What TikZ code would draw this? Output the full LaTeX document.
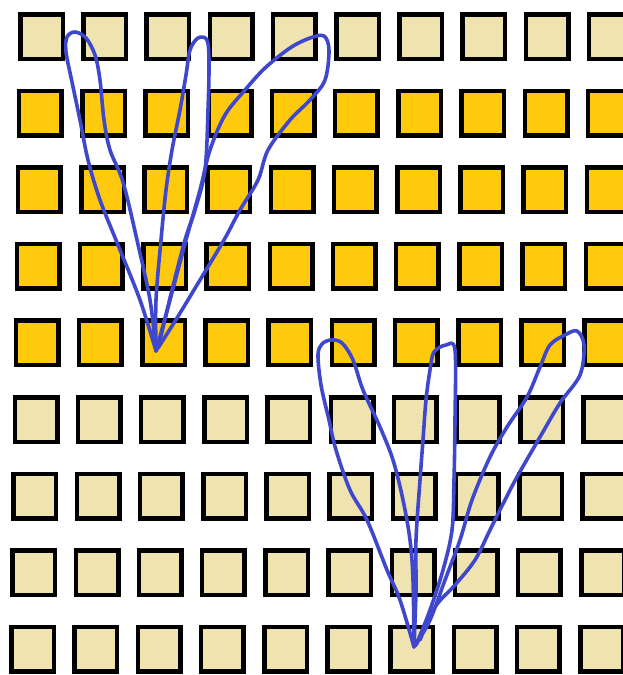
\documentclass[tikz,border=0pt]{standalone}
\definecolor{pale}{HTML}{EFE4B0}
\definecolor{gold}{HTML}{FFC90E}
\definecolor{pen}{HTML}{3F48CC}
\tikzset{
  cell/.style={draw=black, line width=4.5pt},
  stroke/.style={draw=pen, line width=3.6pt, line join=round, line cap=round}
}
\begin{document}
\begin{tikzpicture}[x=1pt, y=-1pt]
\useasboundingbox (0,0) rectangle (623,675);
\clip (0,0) rectangle (623,675);
\fill[white] (0,0) rectangle (623,675);
\foreach \r in {1,...,9}{
  \foreach \c in {1,...,10}{
    \pgfmathsetmacro{\xl}{18-(\r-1)*1.1+(\c-1)*63.2}
    \pgfmathsetmacro{\yt}{12+(\r-1)*76.6}
    \ifnum\r>1 \ifnum\r<6
      \def\fc{gold}
    \else \def\fc{pale}\fi
    \else \def\fc{pale}\fi
    \path[cell, fill=\fc] (\xl+2.25,\yt+2.25) rectangle (\xl+44.75,\yt+46.75);
  }
}
% top-left group
\coordinate (t1) at (156,351);
\draw[stroke] plot[smooth, tension=0.55] coordinates {
  (156,351) (140,300) (118,245) (100,200) (88,160) (80,120) (72,82) (66,52)
  (67,37) (75,32) (86,38) (95,55) (100,80) (104,120) (110,150) (123,182)
  (137,240) (150,300) (156,351)};
\draw[stroke] plot[smooth, tension=0.55] coordinates {
  (156,351) (156,300) (161,240) (166,190) (172,150) (180,110) (186,75)
  (190,50) (198,38) (207,40) (209,62) (208,110) (205,170) (195,210)
  (185,240) (172,290) (160,340) (156,351)};
\draw[stroke] plot[smooth, tension=0.55] coordinates {
  (156,351) (170,300) (186,240) (200,190) (210,150) (225,115) (245,90)
  (265,68) (290,48) (310,38) (324,36) (329,50) (325,80) (310,100)
  (290,120) (268,150) (258,180) (240,210) (224,240) (200,280) (177,318)
  (158,348)};
% bottom-right group
\draw[stroke] plot[smooth, tension=0.55] coordinates {
  (414,647) (400,600) (387,570) (367,520) (350,490) (336,450) (329,420)
  (321,385) (318,355) (322,344) (331,340) (342,343) (353,360) (363,390)
  (380,427) (393,460) (403,500) (410,540) (413,580) (414,647)};
\draw[stroke] plot[smooth, tension=0.55] coordinates {
  (414,647) (416,590) (416,540) (420,480) (423,440) (426,400) (430,370)
  (434,352) (446,345) (455,350) (455,420) (454,480) (452,530) (443,570)
  (430,610) (416,645)};
\draw[stroke] plot[smooth, tension=0.55] coordinates {
  (415,646) (430,620) (445,580) (460,540) (472,500) (490,457) (507,427)
  (527,397) (540,367) (550,345) (565,335) (577,331) (584,345) (580,375)
  (560,403) (540,437) (517,477) (505,500) (490,530) (475,560) (455,585)
  (435,607) (420,640)};
\end{tikzpicture}
\end{document}
